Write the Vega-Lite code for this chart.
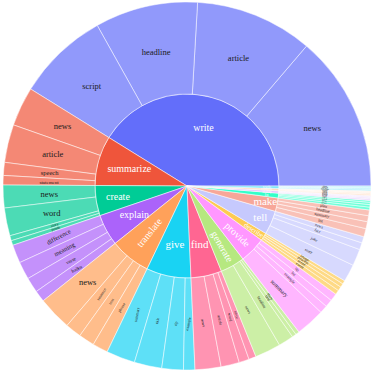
{
  "$schema": "https://vega.github.io/schema/vega-lite/v6.json",
  "width": 374,
  "height": 372,
  "padding": 0,
  "autosize": {"type": "none"},
  "background": "#ffffff",
  "view": {"stroke": null},
  "data": {"values": [
    {"verb": "write", "noun": "news", "count": 495},
    {"verb": "write", "noun": "article", "count": 372},
    {"verb": "write", "noun": "headline", "count": 325},
    {"verb": "write", "noun": "script", "count": 290},
    {"verb": "summarize", "noun": "news", "count": 124},
    {"verb": "summarize", "noun": "article", "count": 120},
    {"verb": "summarize", "noun": "speech", "count": 41},
    {"verb": "summarize", "noun": "statement", "count": 30},
    {"verb": "create", "noun": "news", "count": 72},
    {"verb": "create", "noun": "word", "count": 88},
    {"verb": "create", "noun": "story", "count": 16},
    {"verb": "create", "noun": "poem", "count": 15},
    {"verb": "explain", "noun": "difference", "count": 58},
    {"verb": "explain", "noun": "meaning", "count": 56},
    {"verb": "explain", "noun": "verse", "count": 48},
    {"verb": "explain", "noun": "haiku", "count": 36},
    {"verb": "translate", "noun": "news", "count": 107},
    {"verb": "translate", "noun": "sentence", "count": 51},
    {"verb": "translate", "noun": "text", "count": 50},
    {"verb": "translate", "noun": "phrase", "count": 49},
    {"verb": "give", "noun": "summary", "count": 91},
    {"verb": "give", "noun": "title", "count": 87},
    {"verb": "give", "noun": "tip", "count": 68},
    {"verb": "give", "noun": "example", "count": 36},
    {"verb": "find", "noun": "news", "count": 82},
    {"verb": "find", "noun": "article", "count": 58},
    {"verb": "find", "noun": "word", "count": 32},
    {"verb": "find", "noun": "error", "count": 23},
    {"verb": "generate", "noun": "news", "count": 82},
    {"verb": "generate", "noun": "headline", "count": 48},
    {"verb": "generate", "noun": "title", "count": 13},
    {"verb": "generate", "noun": "story", "count": 12},
    {"verb": "provide", "noun": "summary", "count": 92},
    {"verb": "provide", "noun": "example", "count": 25},
    {"verb": "provide", "noun": "list", "count": 24},
    {"verb": "provide", "noun": "tip", "count": 24},
    {"verb": "describe", "noun": "event", "count": 14},
    {"verb": "describe", "noun": "scene", "count": 13},
    {"verb": "describe", "noun": "process", "count": 12},
    {"verb": "describe", "noun": "image", "count": 11},
    {"verb": "tell", "noun": "story", "count": 55},
    {"verb": "tell", "noun": "joke", "count": 53},
    {"verb": "tell", "noun": "fact", "count": 22},
    {"verb": "tell", "noun": "news", "count": 20},
    {"verb": "make", "noun": "list", "count": 26},
    {"verb": "make", "noun": "summary", "count": 22},
    {"verb": "make", "noun": "headline", "count": 19},
    {"verb": "make", "noun": "plan", "count": 18},
    {"verb": "list", "noun": "news", "count": 9},
    {"verb": "list", "noun": "item", "count": 8},
    {"verb": "list", "noun": "word", "count": 7},
    {"verb": "list", "noun": "fact", "count": 6},
    {"verb": "identify", "noun": "topic", "count": 5},
    {"verb": "identify", "noun": "word", "count": 4},
    {"verb": "identify", "noun": "name", "count": 3},
    {"verb": "identify", "noun": "error", "count": 3},
    {"verb": "compose", "noun": "poem", "count": 5},
    {"verb": "compose", "noun": "song", "count": 4},
    {"verb": "compose", "noun": "story", "count": 3},
    {"verb": "compose", "noun": "email", "count": 3},
    {"verb": "rewrite", "noun": "sentence", "count": 5},
    {"verb": "rewrite", "noun": "news", "count": 4},
    {"verb": "rewrite", "noun": "article", "count": 3},
    {"verb": "rewrite", "noun": "text", "count": 3}
  ]},
  "transform": [{"window": [{"op": "row_number", "as": "idx"}]}],
  "layer": [
    {
      "transform": [{"aggregate": [{"op": "sum", "field": "count", "as": "total"}, {"op": "min", "field": "idx", "as": "o"}], "groupby": ["verb"]}],
      "mark": {"type": "arc", "innerRadius": 0, "outerRadius": 92, "stroke": "#ffffff", "strokeWidth": 0.5},
      "encoding": {
        "theta": {"field": "total", "type": "quantitative", "stack": true, "scale": {"range": [1.5707963, -4.712389]}},
        "order": {"field": "o", "type": "quantitative"},
        "color": {"field": "verb", "type": "nominal", "legend": null,
          "scale": {"domain": ["write","summarize","create","explain","translate","give","find","generate","provide","describe","tell","make","list","identify","compose","rewrite"],
                    "range": ["#636efa","#EF553B","#00cc96","#ab63fa","#FFA15A","#19d3f3","#FF6692","#B6E880","#FF97FF","#FECB52","#c6c9fd","#f7a799","#33ffc9","#e3c6fd","#ffdbc0","#7ae6f8"]}}
      }
    },
    {
      "mark": {"type": "arc", "innerRadius": 92, "outerRadius": 184, "fillOpacity": 0.7, "stroke": "#ffffff", "strokeWidth": 0.5},
      "encoding": {
        "theta": {"field": "count", "type": "quantitative", "stack": true, "scale": {"range": [1.5707963, -4.712389]}},
        "order": {"field": "idx", "type": "quantitative"},
        "color": {"field": "verb", "type": "nominal", "legend": null}
      }
    },
    {
      "mark": {"type": "text", "radius": 138, "fill": "#1a1a1a", "align": "center", "baseline": "middle", "font": "Liberation Serif"},
      "encoding": {
        "theta": {"field": "count", "type": "quantitative", "stack": true, "scale": {"range": [1.5707963, -4.712389]}},
        "order": {"field": "idx", "type": "quantitative"},
        "text": {"field": "noun"},
        "size": {"condition": [
          {"test": "datum.count < 10", "value": 2.5},
          {"test": "indexof(['write','summarize','create'], datum.verb) >= 0 && datum.count >= 70", "value": 8.5},
          {"test": "datum.verb === 'translate' && datum.noun === 'news'", "value": 8.5},
          {"test": "datum.verb === 'explain' && datum.count >= 50", "value": 6.5},
          {"test": "datum.verb === 'summarize' && datum.noun === 'speech'", "value": 6.5},
          {"test": "datum.verb === 'summarize'", "value": 5},
          {"test": "datum.verb === 'provide' && datum.noun === 'summary'", "value": 6},
          {"test": "datum.verb === 'explain'", "value": 5}
        ], "value": 4},
        "angle": {"condition": [
          {"test": "datum.verb === 'create' && datum.count < 50", "value": -17},
          {"test": "datum.verb === 'explain'", "value": -28},
          {"test": "datum.verb === 'translate' && datum.noun !== 'news'", "value": -57},
          {"test": "datum.verb === 'give'", "value": -78},
          {"test": "datum.verb === 'find'", "value": 78},
          {"test": "datum.verb === 'generate'", "value": 60},
          {"test": "datum.verb === 'provide'", "value": 45},
          {"test": "datum.verb === 'describe'", "value": 33},
          {"test": "datum.verb === 'tell'", "value": 24},
          {"test": "datum.verb === 'make'", "value": 12},
          {"test": "indexof(['list','identify','compose','rewrite'], datum.verb) >= 0", "value": 4}
        ], "value": 0}
      }
    },
    {
      "transform": [{"aggregate": [{"op": "sum", "field": "count", "as": "total"}, {"op": "min", "field": "idx", "as": "o"}], "groupby": ["verb"]}],
      "mark": {"type": "text", "radius": 60, "fill": "#ffffff", "align": "center", "baseline": "middle", "font": "Liberation Serif"},
      "encoding": {
        "theta": {"field": "total", "type": "quantitative", "stack": true, "scale": {"range": [1.5707963, -4.712389]}},
        "order": {"field": "o", "type": "quantitative"},
        "text": {"condition": {"test": "indexof(['write','summarize','explain','translate','give','find'], datum.verb) >= 0", "field": "verb"}, "value": ""},
        "size": {"condition": {"test": "indexof(['give','find'], datum.verb) >= 0", "value": 11}, "value": 10},
        "angle": {"condition": {"test": "datum.verb === 'translate'", "value": -51}, "value": 0}
      }
    },
    {
      "transform": [{"aggregate": [{"op": "sum", "field": "count", "as": "total"}, {"op": "min", "field": "idx", "as": "o"}], "groupby": ["verb"]}],
      "mark": {"type": "text", "radius": 70, "fill": "#ffffff", "align": "center", "baseline": "middle", "font": "Liberation Serif", "size": 10},
      "encoding": {
        "theta": {"field": "total", "type": "quantitative", "stack": true, "scale": {"range": [1.5707963, -4.712389]}},
        "order": {"field": "o", "type": "quantitative"},
        "text": {"condition": {"test": "indexof(['create','generate','provide'], datum.verb) >= 0", "field": "verb"}, "value": ""},
        "angle": {"condition": [
          {"test": "datum.verb === 'generate'", "value": 60},
          {"test": "datum.verb === 'provide'", "value": 44}
        ], "value": 0}
      }
    },
    {
      "transform": [{"aggregate": [{"op": "sum", "field": "count", "as": "total"}, {"op": "min", "field": "idx", "as": "o"}], "groupby": ["verb"]}],
      "mark": {"type": "text", "radius": 80, "fill": "#ffffff", "align": "center", "baseline": "middle", "font": "Liberation Serif"},
      "encoding": {
        "theta": {"field": "total", "type": "quantitative", "stack": true, "scale": {"range": [1.5707963, -4.712389]}},
        "order": {"field": "o", "type": "quantitative"},
        "text": {"condition": {"test": "indexof(['describe','tell','make','list','identify','compose','rewrite'], datum.verb) >= 0", "field": "verb"}, "value": ""},
        "size": {"condition": [
          {"test": "datum.verb === 'describe'", "value": 6.5},
          {"test": "indexof(['tell','make'], datum.verb) >= 0", "value": 11}
        ], "value": 3},
        "angle": {"condition": {"test": "datum.verb === 'describe'", "value": 33}, "value": 0}
      }
    }
  ]
}
